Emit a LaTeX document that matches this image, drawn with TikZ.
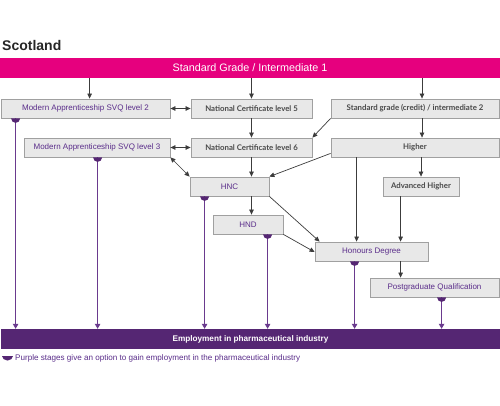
\documentclass[tikz,border=0pt]{standalone}
\usepackage{fontspec}
\setmainfont{Liberation Sans}
\newfontfamily\latofont{Lato}
\usetikzlibrary{arrows.meta,calc}
\definecolor{pinkc}{HTML}{E6007E}
\definecolor{purp}{HTML}{552673}
\definecolor{purpline}{HTML}{6A3A8E}
\definecolor{purptext}{HTML}{5A2D8A}
\definecolor{boxfill}{HTML}{E8E8E8}
\definecolor{boxline}{HTML}{A0A0A0}
\definecolor{arrowc}{HTML}{3C3C3C}
\definecolor{greytext}{HTML}{4A4A4A}
\begin{document}
\begin{tikzpicture}[x=1pt,y=-1pt,
 box/.style={draw=boxline, fill=boxfill, line width=0.8pt, inner sep=0pt, minimum height=19pt, anchor=center},
 ptext/.style={text=purptext, font=\fontsize{8}{9}\selectfont},
 gtext/.style={text=greytext, font=\latofont\bfseries\fontsize{7.8}{9}\selectfont},
 garrow/.style={draw=arrowc, line width=0.7pt, -{Triangle[length=5pt,width=4.5pt]}},
 gdarrow/.style={draw=arrowc, line width=0.7pt, {Triangle[length=5pt,width=4.5pt]}-{Triangle[length=5pt,width=4.5pt]}},
 parrow/.style={draw=purpline, line width=1pt, -{Triangle[length=5pt,width=5.5pt]}},
]
\useasboundingbox[fill=white] (0,0) rectangle (500,405);
\node[anchor=base west, inner sep=0pt, font=\bfseries\fontsize{14}{16}\selectfont, text=black!85] (title) at (2,50) {Scotland};
\node[fill=pinkc, minimum width=500pt, minimum height=20pt, inner sep=0pt, text=white, font=\fontsize{10.8}{12}\selectfont] (pink) at (250,68) {Standard Grade / Intermediate 1};

\node[box, ptext, minimum width=169pt] (ma2) at (85.5,108.5) {Modern Apprenticeship SVQ level 2};
\node[box, gtext, minimum width=121pt] (nc5) at (251.5,108.5) {National Certificate level 5};
\node[box, gtext, minimum width=168pt] (sgc) at (415,108.5) {Standard grade (credit) / intermediate 2};
\node[box, ptext, minimum width=146pt] (ma3) at (97,147.5) {Modern Apprenticeship SVQ level 3};
\node[box, gtext, minimum width=121pt] (nc6) at (251.5,147.5) {National Certificate level 6};
\node[box, gtext, minimum width=168pt] (hig) at (415,147.5) {Higher};
\node[box, ptext, minimum width=79pt] (hnc) at (229.5,186.5) {HNC};
\node[box, gtext, minimum width=76pt] (adv) at (421,186.5) {Advanced Higher};
\node[box, ptext, minimum width=70pt] (hnd) at (248,224.5) {HND};
\node[box, ptext, minimum width=113pt] (hon) at (371.5,251.5) {Honours Degree};
\node[box, ptext, minimum width=129pt] (pgq) at (434.5,287.5) {Postgraduate Qualification};

\node[fill=purp, minimum width=499pt, minimum height=20pt, inner sep=0pt, text=white, font=\bfseries\fontsize{8.2}{10}\selectfont] (emp) at (250.5,339) {Employment in pharmaceutical industry};

\node[anchor=west, inner sep=0pt, text=purptext, font=\fontsize{8.1}{9}\selectfont] (leg) at (15,358) {Purple stages give an option to gain employment in the pharmaceutical industry};
\fill[purp] (2,356) -- (13,356) arc[start angle=0, end angle=-180, x radius=5.5pt, y radius=4.5pt] -- cycle;

% grey arrows
\coordinate (a1) at ($(ma2.north west)+(89,0)$);
\coordinate (a3) at ($(sgc.north)+(7,0)$);
\coordinate (a4) at ($(sgc.south)+(7,0)$);
\coordinate (h1) at ($(hon.north west)+(42,0)$);
\coordinate (h2) at ($(hon.north west)+(86,0)$);
\draw[garrow] (pink.south -| a1) -- (a1);
\draw[garrow] (pink.south -| nc5.north) -- (nc5.north);
\draw[garrow] (pink.south -| a3) -- (a3);
\draw[gdarrow] (ma2.east) -- (nc5.west);
\draw[garrow] (nc5.south) -- (nc6.north);
\draw[garrow] (sgc.south west) -- (nc6.north east);
\draw[garrow] (a4) -- (a4 |- hig.north);
\draw[gdarrow] (ma3.east) -- (nc6.west);
\draw[gdarrow] (ma3.south east) -- (hnc.north west);
\draw[garrow] (nc6.south) -- (hnc.north -| nc6.south);
\draw[garrow] ($(hig.south west)+(0,-4)$) -- (hnc.north east);
\draw[garrow] (adv.north |- hig.south) -- (adv.north);
\draw[garrow] (h1 |- hig.south) -- (h1);
\draw[garrow] (h2 |- adv.south) -- (h2);
\draw[garrow] (hnc.south east) -- ($(hon.north west)+(5,0)$);
\draw[garrow] (hnd.south east) -- ($(hon.west)+(0,0.5)$);
\draw[garrow] (hnc.south -| nc6.south) -- (hnd.north -| nc6.south);
\draw[garrow] (h2 |- hon.south) -- (h2 |- pgq.north);

% purple drops
\coordinate (t1) at ($(ma2.south west)+(15,0)$);
\coordinate (t2) at ($(ma3.south west)+(74,0)$);
\coordinate (t3) at ($(hnc.south west)+(15,0)$);
\coordinate (t4) at ($(hnd.south west)+(55,0)$);
\coordinate (t5) at ($(hon.south west)+(40,0)$);
\coordinate (t6) at ($(pgq.south west)+(72,0)$);
\foreach \t in {t1,t2,t3,t4,t5,t6}{
  \draw[parrow] (\t) -- (\t |- emp.north);
  \fill[purp] (\t) ++(-4.5pt,0) arc[start angle=180, end angle=360, radius=4.5pt] -- cycle;
}
\end{tikzpicture}
\end{document}
